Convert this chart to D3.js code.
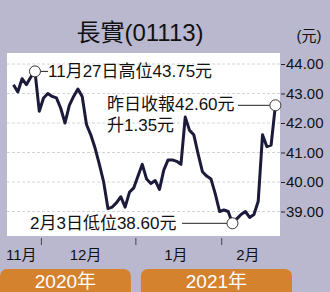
<!DOCTYPE html>
<html>
<head>
<meta charset="utf-8">
<script src="https://cdn.jsdelivr.net/npm/d3@7"></script>
<style>
  html, body { margin: 0; padding: 0; background: #bab8cf; }
  svg { display: block; }
  text { font-family: "Liberation Sans", "Noto Sans CJK TC", sans-serif; }
</style>
</head>
<body>
<svg id="chart"></svg>
<script>
// trading days shown on the chart
const dates = ["11/20","11/23","11/24","11/25","11/26","11/27","11/30",
  "12/01","12/02","12/03","12/04","12/07","12/08","12/09","12/10","12/11","12/14","12/15","12/16","12/17","12/18","12/21","12/22","12/23","12/24","12/28","12/29","12/30","12/31",
  "01/04","01/05","01/06","01/07","01/08","01/11","01/12","01/13","01/14","01/15","01/18","01/19","01/20","01/21","01/22","01/25","01/26","01/27","01/28","01/29",
  "02/01","02/02","02/03","02/04","02/05","02/08","02/09","02/10","02/11","02/16","02/17","02/18","02/19"];

// closing price (HK$)
const prices = [43.30, 43.05, 43.50, 43.30, 43.55, 43.75, 42.40,
  42.85, 43.00, 42.90, 42.85, 42.50, 42.00, 42.60, 42.90, 43.15, 42.90, 41.95, 41.60, 41.15, 40.60, 40.00, 39.10, 39.15, 39.30, 39.50, 39.15, 39.65, 39.80,
  40.20, 40.60, 40.10, 39.95, 40.05, 39.75, 40.40, 40.75, 40.75, 40.70, 40.60, 42.20, 41.75, 41.60, 40.95, 40.35, 40.20, 40.10, 39.60, 39.00,
  39.05, 39.00, 38.60, 38.75, 38.90, 39.00, 38.80, 38.90, 39.35, 41.60, 41.20, 41.25, 42.60];

const yTicks = [39, 40, 41, 42, 43, 44];
const months = ["11月", "12月", "1月", "2月"];
const monthStarts = ["12/01", "01/04", "02/01"];   // first trading day of each new month
const years = ["2020年", "2021年"];
const title = "長實(01113)";
const unit = "(元)";
const highNote = ["11月27日高位43.75元"];
const closeNote = ["昨日收報42.60元", "升1.35元"];
const lowNote = ["2月3日低位38.60元"];

const W = 330, H = 292;
const plot = { left: 7, right: 280, top: 53, bottom: 236 };

const svg = d3.select("#chart").attr("width", W).attr("height", H);

svg.append("rect").attr("width", W).attr("height", H).attr("fill", "#bab8cf");

// title and unit
svg.append("text")
  .attr("x", 140).attr("y", 41)
  .attr("text-anchor", "middle")
  .attr("font-size", 24)
  .attr("fill", "#111")
  .text(title);

svg.append("text")
  .attr("x", 309).attr("y", 41)
  .attr("text-anchor", "middle")
  .attr("font-size", 15)
  .attr("fill", "#111")
  .text(unit);

// white plot area
svg.append("rect")
  .attr("x", plot.left).attr("y", plot.top)
  .attr("width", plot.right - plot.left)
  .attr("height", plot.bottom - plot.top)
  .attr("fill", "#fff");

const x = d3.scaleLinear().domain([0, dates.length - 1]).range([13.5, 275.4]);
const y = d3.scaleLinear().domain([39, 44]).range([211.5, 64]);

// dashed gridlines
svg.append("g")
  .selectAll("line")
  .data(yTicks)
  .join("line")
  .attr("x1", plot.left).attr("x2", plot.right)
  .attr("y1", d => y(d)).attr("y2", d => y(d))
  .attr("stroke", "#d4d4d4")
  .attr("stroke-width", 1)
  .attr("stroke-dasharray", "3,2");

// right axis
const yAxis = d3.axisRight(y)
  .tickValues(yTicks)
  .tickSize(4)
  .tickPadding(1)
  .tickFormat(d3.format(".2f"));

const yg = svg.append("g")
  .attr("transform", `translate(${plot.right + 1},0)`)
  .call(yAxis);
yg.select(".domain").remove();
yg.selectAll("line").attr("stroke", "#222");
yg.selectAll("text")
  .attr("font-size", 15)
  .attr("fill", "#111")
  .style("font-family", "'Liberation Sans', sans-serif");

// price line
const line = d3.line()
  .x((d, i) => x(i))
  .y(d => y(d));

svg.append("path")
  .datum(prices)
  .attr("d", line)
  .attr("fill", "none")
  .attr("stroke", "#1b1a3a")
  .attr("stroke-width", 3)
  .attr("stroke-linejoin", "round");

// annotations
const hiIdx = prices.indexOf(d3.max(prices));
const loIdx = prices.indexOf(d3.min(prices));
const lastIdx = prices.length - 1;

function marker(i) {
  svg.append("circle")
    .attr("cx", x(i)).attr("cy", y(prices[i]))
    .attr("r", 5.5)
    .attr("fill", "#fff")
    .attr("stroke", "#333")
    .attr("stroke-width", 1);
}

function leader(x1, x2, yy) {
  svg.append("line")
    .attr("x1", x1).attr("x2", x2)
    .attr("y1", yy).attr("y2", yy)
    .attr("stroke", "#222")
    .attr("stroke-width", 1);
}

// high
leader(x(hiIdx) + 5.5, 48, y(prices[hiIdx]));
marker(hiIdx);
svg.append("text")
  .attr("x", 48).attr("y", y(prices[hiIdx]) + 6)
  .attr("font-size", 17).attr("fill", "#111")
  .text(highNote[0]);

// last close
leader(238, x(lastIdx) - 5.5, y(prices[lastIdx]));
marker(lastIdx);
svg.selectAll(".closeNote")
  .data(closeNote)
  .join("text")
  .attr("class", "closeNote")
  .attr("x", 107)
  .attr("y", (d, i) => 110 + i * 21)
  .attr("font-size", 17).attr("fill", "#111")
  .text(d => d);

// low
leader(182, x(loIdx) - 5.5, y(prices[loIdx]));
marker(loIdx);
svg.append("text")
  .attr("x", 30).attr("y", 229)
  .attr("font-size", 17).attr("fill", "#111")
  .text(lowNote[0]);

// month ticks between last day of a month and first day of the next
const boundaries = monthStarts.map(m => x(dates.indexOf(m) - 0.5));

svg.append("g")
  .selectAll("line")
  .data(boundaries)
  .join("line")
  .attr("x1", d => d).attr("x2", d => d)
  .attr("y1", 238).attr("y2", 245)
  .attr("stroke", "#444")
  .attr("stroke-width", 1);

const edges = [plot.left].concat(boundaries, [plot.right]);
svg.append("g")
  .selectAll("text")
  .data(months)
  .join("text")
  .attr("x", (d, i) => (edges[i] + edges[i + 1]) / 2 - 3)
  .attr("y", 260)
  .attr("text-anchor", "middle")
  .attr("font-size", 15)
  .attr("fill", "#111")
  .text(d => d);

// year bars
const yearSpans = [[0, boundaries[1] - 5], [boundaries[1] + 5, plot.right + 12]];
const yb = svg.append("g")
  .selectAll("g")
  .data(years)
  .join("g");

yb.append("rect")
  .attr("x", (d, i) => yearSpans[i][0])
  .attr("y", 269)
  .attr("width", (d, i) => yearSpans[i][1] - yearSpans[i][0])
  .attr("height", 40)
  .attr("rx", 7)
  .attr("fill", "#d5822e");

yb.append("text")
  .attr("x", (d, i) => (yearSpans[i][0] + yearSpans[i][1]) / 2)
  .attr("y", 288)
  .attr("text-anchor", "middle")
  .attr("font-size", 19)
  .attr("fill", "#fff")
  .text(d => d);
</script>
</body>
</html>
